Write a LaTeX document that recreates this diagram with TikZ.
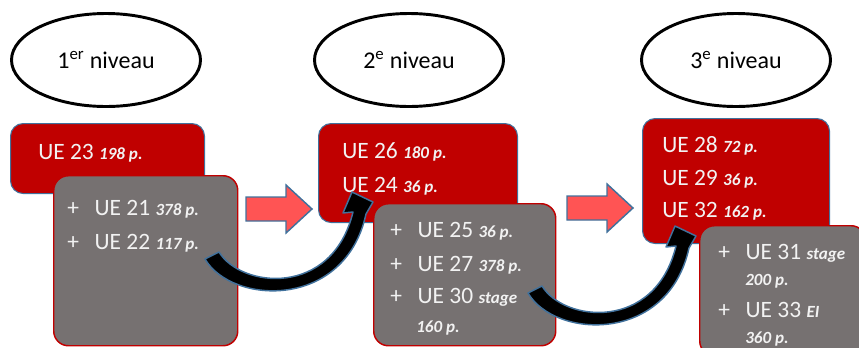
\documentclass[tikz,border=0pt]{standalone}
\usepackage{fontspec}
\setmainfont{Carlito}
\usetikzlibrary{shapes.geometric}
\definecolor{rouge}{RGB}{192,0,0}
\definecolor{gris}{RGB}{118,113,113}
\definecolor{bleu}{RGB}{65,113,156}
\definecolor{saumon}{RGB}{255,84,84}
\definecolor{blanc}{RGB}{242,242,242}
\newcommand{\pg}[1]{{\fontsize{12.8}{14}\selectfont\bfseries\itshape #1}}
\newcommand{\plus}{\makebox[20.5pt][l]{+}}
\tikzset{
  niveau/.style={ellipse, draw=black, line width=2.2pt, fill=white, minimum width=141.75pt, minimum height=69.75pt, inner sep=0pt, font=\fontsize{18}{21}\selectfont},
  boiterouge/.style={rectangle, rounded corners=9.5pt, fill=rouge, draw=bleu, line width=0.8pt, anchor=north west, inner sep=0pt},
  boitegrise/.style={rectangle, rounded corners=11pt, fill=gris, draw=rouge, line width=1.1pt, anchor=north west, inner sep=0pt},
  ligne/.style={anchor=base west, inner sep=0pt, text=blanc, font=\fontsize{17.6}{20}\selectfont},
  courbe/.pic={
    \fill [black, draw=bleu, line width=1.1pt, line join=round]
      (0,0) -- (14,7) .. controls (36,-29) and (127,-39) .. (148,47)
      -- (138,46) -- (147,67) -- (168,57) -- (161,45)
      .. controls (140,-51) and (27,-46) .. (0,0) -- cycle;
  },
  fleche/.pic={
    \draw [fill=saumon, draw=bleu, line width=1.1pt, line join=miter]
      (0,-12) -- (40,-12) -- (40,-24) -- (66,0) -- (40,24) -- (40,12) -- (0,12) -- cycle;
  }
}
\begin{document}
\begin{tikzpicture}[x=0.75pt,y=0.75pt,yscale=-1,xscale=1]
\useasboundingbox (0,0) rectangle (859,347);
\clip (0,0) rectangle (859,347);
% niveaux
\node (niv1) [niveau] at (106,60) {1\textsuperscript{er} niveau};
\node (niv2) [niveau] at (409,60) {2\textsuperscript{e} niveau};
\node (niv3) [niveau] at (736,60) {3\textsuperscript{e} niveau};
% 1er niveau
\node (r1) [boiterouge, minimum width=145.5pt, minimum height=52.5pt] at (10,123) {};
\node (g1) [boitegrise, minimum width=138pt, minimum height=127.5pt] at (53,175) {};
\node (t23) [ligne] at (38,159) {UE 23 \pg{198 p.}};
\node (t21) [ligne] at (67,215) {\plus UE 21 \pg{378 p.}};
\node (t22) [ligne] at (67,249) {\plus UE 22 \pg{117 p.}};
% 2e niveau
\node (r2) [boiterouge, minimum width=149.25pt, minimum height=74.25pt] at (318,123) {};
\node (g2) [boitegrise, minimum width=136.5pt, minimum height=106.5pt] at (373,203) {};
\node (t26) [ligne] at (342,158) {UE 26 \pg{180 p.}};
\node (t24) [ligne] at (342,192) {UE 24 \pg{36 p.}};
\node (t25) [ligne] at (390,237) {\plus UE 25 \pg{36 p.}};
\node (t27) [ligne] at (390,271) {\plus UE 27 \pg{378 p.}};
\node (t30) [ligne] at (390,303) {\plus UE 30 \pg{stage}};
\node (t30b) [ligne] at (416,332) {\pg{160 p.}};
% 3e niveau
\node (r3) [boiterouge, minimum width=140.25pt, minimum height=93.75pt] at (642,118) {};
\node (g3) [boitegrise, minimum width=124.5pt, minimum height=97.5pt] at (699,225) {};
\node (t28) [ligne] at (662,152) {UE 28 \pg{72 p.}};
\node (t29) [ligne] at (662,185) {UE 29 \pg{36 p.}};
\node (t32) [ligne] at (662,217) {UE 32 \pg{162 p.}};
\node (t31) [ligne] at (718,259) {\plus UE 31 \pg{stage}};
\node (t31b) [ligne] at (745,285) {\pg{200 p.}};
\node (t33) [ligne] at (718,317) {\plus UE 33 \pg{EI}};
\node (t33b) [ligne] at (745,343) {\pg{360 p.}};
% fleches
\coordinate (f1) at (246,209);
\coordinate (f2) at (567,208);
\pic at (f1) {fleche};
\pic at (f2) {fleche};
\coordinate (d1) at (205,259);
\coordinate (d2) at (528,293);
\pic at (d1) {courbe};
\pic at (d2) {courbe};
\end{tikzpicture}
\end{document}
